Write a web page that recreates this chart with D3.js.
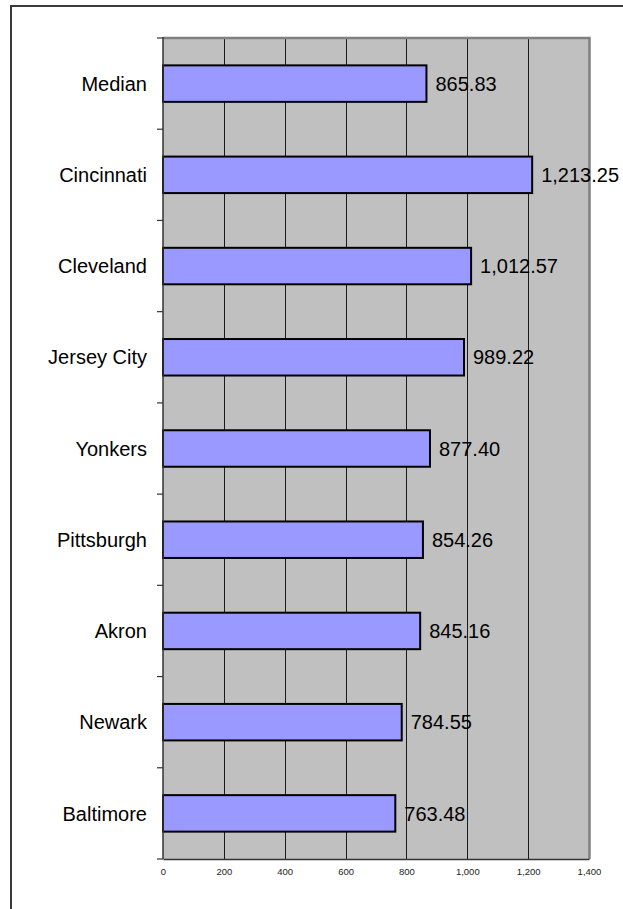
<!DOCTYPE html>
<html>
<head>
<meta charset="utf-8">
<script src="https://cdn.jsdelivr.net/npm/d3@7"></script>
<style>
  html, body { margin: 0; padding: 0; background: #fff; }
  svg { display: block; }
  text { font-family: "Liberation Sans", Arial, sans-serif; }
</style>
</head>
<body>
<svg id="chart" width="623" height="909"></svg>
<script>
// Cities (top to bottom) and their values
const categories = ["Median", "Cincinnati", "Cleveland", "Jersey City", "Yonkers",
                    "Pittsburgh", "Akron", "Newark", "Baltimore"];
const values = [865.83, 1213.25, 1012.57, 989.22, 877.40, 854.26, 845.16, 784.55, 763.48];
const xTicks = [0, 200, 400, 600, 800, 1000, 1200, 1400];

const svg = d3.select("#chart");
const plot = { left: 163, right: 589, top: 38, bottom: 859 };

const x = d3.scaleLinear().domain([0, 1400]).range([plot.left, plot.right]);
const y = d3.scaleBand().domain(categories)
  .range([plot.top, plot.bottom])
  .paddingInner(0.6).paddingOuter(0.3);

const fmt = d3.format(",.2f");

// Outer frame (runs off the right and bottom edges)
svg.append("path")
  .attr("d", "M11,915 L11,6 L630,6")
  .attr("fill", "none")
  .attr("stroke", "#3a3a3a")
  .attr("stroke-width", 2);

// Plot background
svg.append("rect")
  .attr("x", plot.left).attr("y", plot.top)
  .attr("width", plot.right - plot.left).attr("height", plot.bottom - plot.top)
  .attr("fill", "#c0c0c0");

// Vertical gridlines
svg.append("g").selectAll("line")
  .data(xTicks.filter(t => t > 0 && t < 1400))
  .join("line")
  .attr("x1", d => Math.round(x(d)) + 0.5).attr("x2", d => Math.round(x(d)) + 0.5)
  .attr("y1", plot.top).attr("y2", plot.bottom)
  .attr("stroke", "#1a1a1a").attr("stroke-width", 1);

// Plot border on top and right
svg.append("path")
  .attr("d", `M${plot.left},${plot.top} L${plot.right + 0.5},${plot.top} L${plot.right + 0.5},${plot.bottom}`)
  .attr("fill", "none")
  .attr("stroke", "#808080")
  .attr("stroke-width", 2.5);

// Bars
svg.append("g").selectAll("rect")
  .data(categories)
  .join("rect")
  .attr("x", x(0))
  .attr("y", d => y(d))
  .attr("width", (d, i) => x(values[i]) - x(0))
  .attr("height", y.bandwidth())
  .attr("fill", "#9999ff")
  .attr("stroke", "#000")
  .attr("stroke-width", 2);

// Value labels
svg.append("g").selectAll("text")
  .data(categories)
  .join("text")
  .attr("x", (d, i) => x(values[i]) + 9)
  .attr("y", d => y(d) + y.bandwidth() / 2)
  .attr("dy", "0.36em")
  .attr("font-size", 20)
  .attr("fill", "#000")
  .text((d, i) => fmt(values[i]));

// Category axis: line, ticks at band boundaries, labels
const step = y.step();
const boundaries = d3.range(categories.length + 1).map(i => plot.top + i * step);
svg.append("line")
  .attr("x1", plot.left).attr("x2", plot.left)
  .attr("y1", plot.top - 1).attr("y2", plot.bottom)
  .attr("stroke", "#333").attr("stroke-width", 1.5);
svg.append("g").selectAll("line")
  .data(boundaries)
  .join("line")
  .attr("x1", plot.left - 6).attr("x2", plot.left)
  .attr("y1", d => d).attr("y2", d => d)
  .attr("stroke", "#333").attr("stroke-width", 1.2);
svg.append("g").selectAll("text")
  .data(categories)
  .join("text")
  .attr("x", plot.left - 16)
  .attr("y", d => y(d) + y.bandwidth() / 2)
  .attr("dy", "0.36em")
  .attr("text-anchor", "end")
  .attr("font-size", 20)
  .attr("fill", "#000")
  .text(d => d);

// Value axis at the bottom
const xAxis = d3.axisBottom(x)
  .tickValues(xTicks)
  .tickSize(0)
  .tickPadding(9)
  .tickFormat(d3.format(","));
const gx = svg.append("g")
  .attr("transform", `translate(0,${plot.bottom})`)
  .call(xAxis);
gx.select(".domain").attr("stroke", "#333").attr("stroke-width", 1.5);
gx.selectAll("text")
  .attr("font-family", "Liberation Sans, Arial, sans-serif")
  .attr("font-size", 9.5)
  .attr("fill", "#222");
</script>
</body>
</html>
